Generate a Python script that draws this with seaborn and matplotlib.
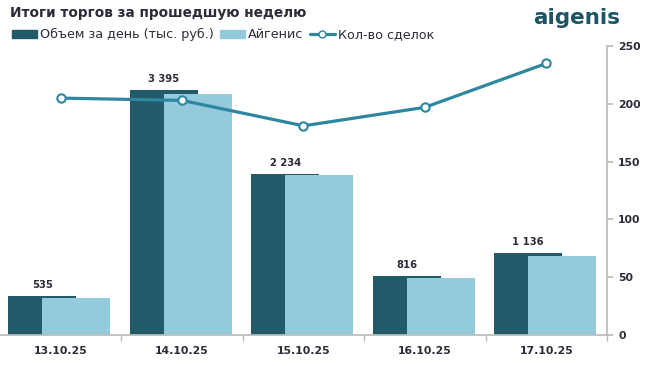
import matplotlib
matplotlib.use("Agg")
import matplotlib.pyplot as plt
import seaborn as sns
import numpy as np
from matplotlib.patches import Patch
from matplotlib.lines import Line2D

# data
dates = ["13.10.25", "14.10.25", "15.10.25", "16.10.25", "17.10.25"]
volume = [535, 3395, 2234, 816, 1136]      # Объем за день (тыс. руб.)
aigenis = [505, 3330, 2210, 790, 1095]     # Айгенис
deals = [205, 203, 181, 197, 235]          # Кол-во сделок

dark = "#215a68"
light = "#94cbdc"
line_c = "#2e86a0"
txt = "#2b2b3a"

sns.set_theme(style="white")
plt.rcParams["font.family"] = ["DejaVu Sans"]

fig = plt.figure(figsize=(6.45, 3.66), dpi=100)
ax = fig.add_axes([0.0, 0.085, 0.941, 0.789])

pos = np.arange(len(dates))
sns.barplot(x=pos - 0.15, y=volume, native_scale=True, width=0.56,
            color=dark, saturation=1, linewidth=0, ax=ax)
sns.barplot(x=pos + 0.13, y=aigenis, native_scale=True, width=0.56,
            color=light, saturation=1, linewidth=0, ax=ax)

for i, v in enumerate(volume):
    ax.text(pos[i] - 0.15, v + 80, f"{v:,}".replace(",", " "),
            ha="center", va="bottom", fontsize=7.2, fontweight="bold", color=txt)

ax.set_ylim(0, 4000)
ax.set_xlim(-0.5, len(dates) - 0.5)
ax.set_yticks([])
ax.set_xticks(pos)
ax.set_xticklabels(dates, fontsize=7.8, fontweight="bold", color=txt)
ax.set_xticks(np.arange(len(dates)) + 0.5, minor=True)
ax.tick_params(axis="x", which="major", length=0, pad=8)
ax.tick_params(axis="x", which="minor", bottom=True, length=4, color="#bbbbbb", width=1)
for s in ["left", "top", "right"]:
    ax.spines[s].set_visible(False)
ax.spines["bottom"].set_color("#bbbbbb")
ax.set_xlabel("")

ax2 = ax.twinx()
sns.lineplot(x=pos, y=deals, ax=ax2, color=line_c, lw=2.3, marker="o",
             markersize=6, markerfacecolor="white", markeredgecolor=line_c,
             markeredgewidth=1.5)
ax2.set_ylim(0, 250)
ax2.set_yticks(range(0, 251, 50))
ax2.tick_params(axis="y", right=True, length=4, color="#bbbbbb", labelsize=7.8,
                labelcolor=txt, pad=4)
for lab in ax2.get_yticklabels():
    lab.set_fontweight("bold")
for s in ["left", "top", "bottom"]:
    ax2.spines[s].set_visible(False)
ax2.spines["right"].set_color("#bbbbbb")
ax2.grid(False)
ax.grid(False)

fig.text(0.015, 0.965, "Итоги торгов за прошедшую неделю", fontsize=9.8,
         fontweight="bold", color=txt, ha="left", va="center")
fig.text(0.962, 0.952, "aigenis", fontsize=15.5, fontweight="bold", color="#1e5566",
         ha="right", va="center")

handles = [Patch(color=dark), Patch(color=light),
           Line2D([], [], color=line_c, lw=2.3, marker="o", markersize=5,
                  markerfacecolor="white", markeredgecolor=line_c)]
labels = ["Объем за день (тыс. руб.)", "Айгенис", "Кол-во сделок"]
fig.legend(handles, labels, loc="center left", bbox_to_anchor=(0.0, 0.905),
           ncol=3, frameon=False, fontsize=9.2, handlelength=2.0, handleheight=0.55,
           handletextpad=0.2, columnspacing=0.5, labelcolor=txt)

fig.savefig("out.png", dpi=100)
